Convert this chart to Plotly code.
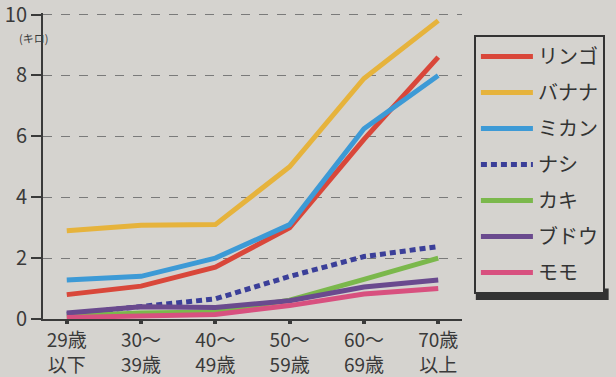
import plotly.graph_objects as go

categories = ["29歳<br>以下", "30〜<br>39歳", "40〜<br>49歳", "50〜<br>59歳", "60〜<br>69歳", "70歳<br>以上"]
series_names = ["リンゴ", "バナナ", "ミカン", "ナシ", "カキ", "ブドウ", "モモ"]
ringo = [0.8, 1.08, 1.7, 3.0, 5.9, 8.6]
banana = [2.9, 3.08, 3.1, 5.0, 7.9, 9.8]
mikan = [1.28, 1.4, 2.0, 3.1, 6.25, 8.0]
nashi = [0.16, 0.42, 0.66, 1.4, 2.05, 2.38]
kaki = [0.1, 0.2, 0.23, 0.62, 1.3, 2.0]
budou = [0.2, 0.4, 0.38, 0.6, 1.05, 1.28]
momo = [0.05, 0.1, 0.15, 0.44, 0.82, 1.0]
y_ticks = [0, 2, 4, 6, 8, 10]

values = [ringo, banana, mikan, nashi, kaki, budou, momo]
colors = ["#d9473a", "#e6b33c", "#3d9ad6", "#3b3f99", "#7bb84c", "#6a4a8e", "#d8507f"]
dashes = ["solid", "solid", "solid", "6px,4px", "solid", "solid", "solid"]

BG = "#d5d3cf"
FONT = "Noto Sans CJK JP"

fig = go.Figure()
for i in range(len(series_names)):
    fig.add_trace(go.Scatter(
        x=list(range(len(categories))), y=values[i], name=series_names[i],
        mode="lines", line=dict(color=colors[i], width=5, dash=dashes[i]),
        legendgroup=series_names[i], legendrank=i + 1,
    ))

fig.update_layout(
    width=616, height=377,
    margin=dict(l=43, r=153, t=13, b=58),
    paper_bgcolor=BG, plot_bgcolor=BG,
    font=dict(family=FONT, color="#3a3a3a"),
    showlegend=True,
    legend=dict(
        x=1.026, y=0.928, xanchor="left", yanchor="top",
        bgcolor=BG, bordercolor="#333", borderwidth=2,
        font=dict(size=20, family=FONT, color="#333"),
        tracegroupgap=7, itemwidth=52,
    ),
    xaxis=dict(
        range=[-0.32, 5.32], tickmode="array", tickvals=list(range(len(categories))),
        ticktext=categories, showgrid=False, zeroline=False, automargin=False,
        showline=True, linecolor="#3a3a3a", linewidth=2,
        ticks="outside", ticklen=3, tickwidth=4, tickcolor="#3a3a3a",
        tickfont=dict(size=19, family=FONT, color="#3a3a3a"),
    ),
    yaxis=dict(
        range=[0, 10.05], tickmode="array", tickvals=y_ticks, automargin=False,
        ticklabeloverflow="allow",
        showgrid=True, gridcolor="#7a7a7a", griddash="dash", gridwidth=1,
        zeroline=False, showline=True, linecolor="#3a3a3a", linewidth=2,
        ticks="outside", ticklen=10, tickwidth=2, tickcolor="#3a3a3a",
        tickfont=dict(size=20, family=FONT, color="#3a3a3a"),
    ),
    shapes=[dict(
        type="rect", xref="paper", yref="paper", layer="below",
        x0=1.033, x1=1.35, y0=0.062, y1=0.1,
        line=dict(width=0), fillcolor="#333",
    )],
    annotations=[dict(
        text="(キロ)", x=0, y=1, xref="paper", yref="paper",
        xshift=-26, yshift=-15, showarrow=False,
        font=dict(size=11, family=FONT, color="#3a3a3a"),
    )],
)

fig.write_html("out.html")
